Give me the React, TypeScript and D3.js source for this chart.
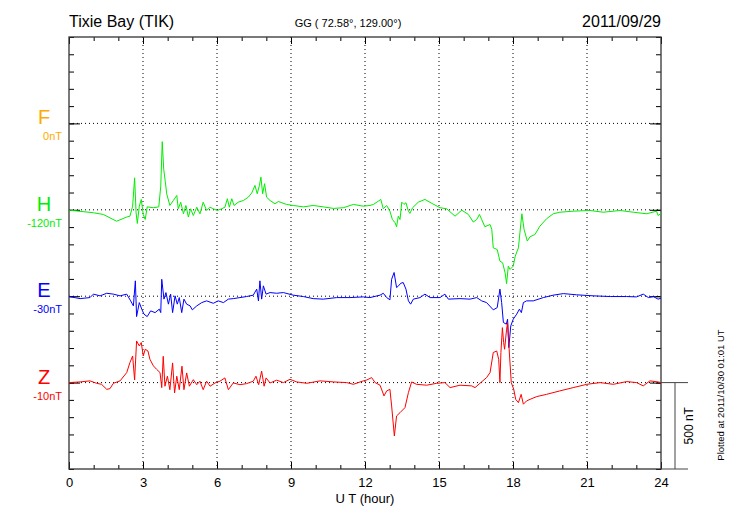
import { useEffect, useRef } from "react";
import * as d3 from "d3";

// hour, deviation from baseline (nT)
const hTrace: [number, number][] = [
  [0.0, -2], [0.99, -17], [1.39, -27], [1.93, -66], [2.34, -42], [2.47, -37], [2.58, 21],
  [2.66, 185], [2.72, -17], [2.77, -79], [2.85, 21], [2.93, 60], [3.01, -27], [3.09, -56],
  [3.17, 17], [3.42, 12], [3.64, 17], [3.72, 137], [3.78, 394], [3.84, 234], [3.91, 156],
  [3.96, 93], [4.09, 25], [4.23, 54], [4.37, 83], [4.43, 6], [4.53, 44], [4.64, -23],
  [4.74, 25], [4.84, -42], [4.93, 6], [5.04, -33], [5.18, 15], [5.31, -23], [5.44, 44],
  [5.58, -4], [5.72, 15], [5.85, 6], [6.01, -4], [6.19, 6], [6.32, 15], [6.42, 64],
  [6.5, 15], [6.6, 64], [6.69, 25], [6.86, 44], [7.07, 54], [7.27, 73], [7.41, 98],
  [7.54, 141], [7.63, 93], [7.72, 141], [7.78, 189], [7.85, 93], [7.93, 151], [8.01, 73],
  [8.15, 54], [8.35, 35], [8.49, 48], [8.82, 31], [9.09, 25], [9.5, 17], [9.9, 25],
  [10.31, 17], [10.72, 8], [11.12, 12], [11.53, 31], [11.93, 21], [12.2, 25], [12.34, 31],
  [12.54, 50], [12.64, 60], [12.74, 6], [12.88, 25], [13.01, -8], [13.11, -56], [13.22, -75],
  [13.28, -98], [13.35, -37], [13.42, -56], [13.49, 44], [13.58, 31], [13.66, 41], [13.76, -8],
  [13.82, -21], [13.93, 12], [14.16, 44], [14.43, 60], [14.71, 37], [15.04, 12], [15.31, 6],
  [15.65, -37], [15.92, -2], [16.19, -27], [16.39, -71], [16.53, -56], [16.64, -27],
  [16.73, -56], [16.86, -98], [17.07, -85], [17.14, -114], [17.2, -220], [17.36, -230],
  [17.47, -297], [17.58, -307], [17.68, -365], [17.74, -427], [17.81, -326], [17.88, -345],
  [18.01, -326], [18.09, -268], [18.22, -220], [18.28, -133], [18.36, -23], [18.45, -114],
  [18.58, -181], [18.69, -156], [18.89, -143], [19.09, -95], [19.36, -52], [19.63, -23],
  [19.9, -14], [20.44, -8], [21.12, -4], [21.66, -14], [22.34, -4], [22.88, -14],
  [23.42, -23], [23.82, -8], [23.88, -33], [24.0, -21],
];

const eTrace: [number, number][] = [
  [0.0, -2], [0.45, -14], [0.85, -8], [0.99, 12], [1.26, 2], [1.53, 17], [1.8, 12], [2.07, 2],
  [2.34, 12], [2.5, -27], [2.61, -56], [2.69, 89], [2.74, -118], [2.85, -37], [2.95, -75],
  [3.04, -104], [3.17, -118], [3.31, -85], [3.49, -95], [3.66, -75], [3.72, -95], [3.76, 98],
  [3.85, -17], [3.93, 21], [4.03, -46], [4.12, 12], [4.2, -95], [4.3, 2], [4.39, -46],
  [4.47, -8], [4.57, -95], [4.66, -17], [4.77, -46], [4.91, -56], [5.0, -79], [5.18, -56],
  [5.38, -37], [5.58, -27], [5.85, -41], [6.05, -27], [6.26, -37], [6.46, -17], [6.66, -14],
  [6.93, -8], [7.2, -2], [7.47, 6], [7.61, 41], [7.68, -27], [7.74, 89], [7.81, -17],
  [7.88, 60], [7.99, 12], [8.15, 21], [8.42, 17], [8.69, 21], [9.09, 6],
  [9.5, -2], [9.9, -14], [10.31, -17], [10.85, -8], [11.39, -8], [11.93, -4], [12.2, -8],
  [12.61, 6], [12.74, 17], [12.88, -8], [13.01, -21], [13.08, 98], [13.18, 137], [13.28, 50],
  [13.36, 60], [13.45, 75], [13.55, 79], [13.66, 41], [13.76, -27], [13.85, -46], [13.96, -17],
  [14.23, -8], [14.43, 12], [14.64, -8], [15.04, -8], [15.24, 12], [15.38, -17], [15.85, -14],
  [16.26, -17], [16.53, -8], [16.73, -27], [16.93, -37], [17.2, -79], [17.36, -66],
  [17.47, 41], [17.54, -37], [17.61, -152], [17.73, -162], [17.78, -133], [17.83, -297],
  [17.91, -172], [18.01, -133], [18.15, -104], [18.26, -75], [18.34, -95], [18.42, -37],
  [18.55, -27], [18.82, -27], [19.23, -8], [19.63, 6], [20.04, 15], [20.58, 8], [21.26, 2],
  [21.94, -2], [22.61, -2], [23.01, -4], [23.28, 12], [23.49, -8], [23.69, -2], [23.88, -17],
  [24.0, -12],
];

const zTrace: [number, number][] = [
  [0.0, 0], [0.45, 4], [0.85, 10], [1.12, -4], [1.32, -10], [1.53, -39], [1.66, -35],
  [1.8, -4], [2.07, 10], [2.34, 58], [2.47, 116], [2.58, 154], [2.66, 15], [2.74, 241],
  [2.85, 212], [2.93, 232], [3.01, 154], [3.09, 193], [3.2, 183], [3.28, 135], [3.42, 97],
  [3.55, 77], [3.69, 58], [3.76, -29], [3.82, 152], [3.89, -21], [3.99, 37], [4.09, -41],
  [4.2, 114], [4.28, -60], [4.37, 37], [4.47, -41], [4.58, 95], [4.66, -41], [4.77, 56],
  [4.88, -21], [5.04, 17], [5.18, -12], [5.31, 8], [5.44, -41], [5.58, 8], [5.72, -21],
  [5.92, -2], [6.12, 8], [6.32, 27], [6.46, -41], [6.66, -2], [6.93, -12], [7.2, -6],
  [7.47, 8], [7.58, 37], [7.69, -12], [7.81, 66], [7.91, -21], [7.99, 27], [8.15, -2],
  [8.42, 14], [8.69, 0], [8.96, 19],
  [9.23, 4], [9.64, -4], [10.18, 10], [10.72, 4], [11.26, 0], [11.53, -10], [11.93, 10],
  [12.07, 15], [12.27, 29], [12.41, 0], [12.61, -15], [12.77, -77], [12.88, -48], [13.01, -39],
  [13.08, -135], [13.19, -309], [13.28, -193], [13.42, -174], [13.62, -145], [13.76, -58],
  [13.89, 4], [14.09, -10], [14.5, -15], [14.91, -4], [15.24, 0], [15.45, -29], [15.85, -15],
  [16.33, -19], [16.46, -29], [16.66, -4], [16.93, 29], [17.07, 58], [17.2, 174], [17.34, 183],
  [17.42, 135], [17.47, 0], [17.51, 174], [17.57, 318], [17.62, 232], [17.66, 193],
  [17.74, 309], [17.78, 347], [17.86, 154], [17.93, 0], [18.03, -39], [18.11, -97],
  [18.22, -116], [18.33, -68], [18.42, -125], [18.55, -106], [18.69, -97], [18.96, -81],
  [19.36, -68], [19.9, -48], [20.44, -29], [20.99, -10], [21.53, 0], [22.07, -10], [22.61, 6],
  [23.01, 0], [23.28, -19], [23.55, 10], [23.88, 4], [24.0, 0],
];

const components = [
  { name: "F", offset: "0nT", color: "#ffaa00", base: 2000, trace: [] as [number, number][] },
  { name: "H", offset: "-120nT", color: "#00ee00", base: 1500, trace: hTrace },
  { name: "E", offset: "-30nT", color: "#0000ff", base: 1000, trace: eTrace },
  { name: "Z", offset: "-10nT", color: "#ff0000", base: 500, trace: zTrace },
];

const hourTicks = d3.range(0, 25);
const labelTicks = [0, 3, 6, 9, 12, 15, 18, 21, 24];
const nTTicks = d3.range(0, 2501, 100);
const nTMajor = [500, 1000, 1500, 2000];

const FONT = "'Liberation Sans', Arial, Helvetica, sans-serif";

export default function App() {
  const svgRef = useRef<SVGSVGElement | null>(null);

  useEffect(() => {
    if (!svgRef.current) return;
    const svg = d3.select(svgRef.current);
    svg.selectAll("*").remove();

    const x = d3.scaleLinear().domain([0, 24]).range([69, 661]);
    const y = d3.scaleLinear().domain([0, 2500]).range([469, 37]);
    const [x0, x1] = x.range();
    const [y0, y1] = y.range();

    // grid
    const grid = svg.append("g").attr("stroke", "#000").attr("stroke-dasharray", "1,3");
    labelTicks.slice(1, -1).forEach((h) => {
      grid.append("line").attr("x1", x(h)).attr("x2", x(h)).attr("y1", y1).attr("y2", y0);
    });
    nTMajor.forEach((v) => {
      grid.append("line").attr("x1", x0).attr("x2", x1).attr("y1", y(v)).attr("y2", y(v));
    });

    // axes (ticks inward)
    const style = (g: d3.Selection<SVGGElement, unknown, null, undefined>) => {
      g.select(".domain").remove();
      g.selectAll("line").attr("stroke", "#000");
      g.selectAll("text").attr("font-family", FONT).attr("font-size", 13).attr("fill", "#000");
    };
    svg.append("g").attr("transform", `translate(0,${y0})`)
      .call(d3.axisBottom(x).tickValues(hourTicks).tickSize(-4).tickFormat(() => "")).call(style);
    svg.append("g").attr("transform", `translate(0,${y0})`)
      .call(d3.axisBottom(x).tickValues(labelTicks).tickSize(-7).tickPadding(9).tickFormat(d3.format("d"))).call(style);
    svg.append("g").attr("transform", `translate(0,${y1})`)
      .call(d3.axisTop(x).tickValues(hourTicks).tickSize(-4).tickFormat(() => "")).call(style);
    svg.append("g").attr("transform", `translate(0,${y1})`)
      .call(d3.axisTop(x).tickValues(labelTicks).tickSize(-7).tickFormat(() => "")).call(style);
    svg.append("g").attr("transform", `translate(${x0},0)`)
      .call(d3.axisLeft(y).tickValues(nTTicks).tickSize(-5).tickFormat(() => "")).call(style);
    svg.append("g").attr("transform", `translate(${x0},0)`)
      .call(d3.axisLeft(y).tickValues(nTMajor).tickSize(-11).tickFormat(() => "")).call(style);
    svg.append("g").attr("transform", `translate(${x1},0)`)
      .call(d3.axisRight(y).tickValues(nTTicks).tickSize(-5).tickFormat(() => "")).call(style);
    svg.append("g").attr("transform", `translate(${x1},0)`)
      .call(d3.axisRight(y).tickValues(nTMajor).tickSize(-11).tickFormat(() => "")).call(style);

    svg.append("rect")
      .attr("x", x0).attr("y", y1).attr("width", x1 - x0).attr("height", y0 - y1)
      .attr("fill", "none").attr("stroke", "#333").attr("stroke-width", 1.3);

    // traces
    const line = d3.line<[number, number]>();
    components.forEach((c) => {
      if (c.trace.length) {
        line.x((d) => x(d[0])).y((d) => y(c.base + d[1]));
        svg.append("path").datum(c.trace)
          .attr("fill", "none").attr("stroke", c.color).attr("stroke-width", 1)
          .attr("d", line);
      }
      svg.append("text").attr("x", 44).attr("y", y(c.base) + 1)
        .attr("text-anchor", "middle").attr("font-family", FONT).attr("font-size", 20)
        .attr("fill", c.color).text(c.name);
      svg.append("text").attr("x", 62).attr("y", y(c.base) + 17)
        .attr("text-anchor", "end").attr("font-family", FONT).attr("font-size", 11)
        .attr("fill", c.color).text(c.offset);
    });

    // 500 nT scale bar
    const bar = svg.append("g").attr("stroke", "#444").attr("stroke-width", 1);
    bar.append("line").attr("x1", x1).attr("x2", x1 + 27).attr("y1", y(500)).attr("y2", y(500));
    bar.append("line").attr("x1", x1).attr("x2", x1 + 27).attr("y1", y(0)).attr("y2", y(0));
    bar.append("line").attr("x1", x1 + 14).attr("x2", x1 + 14).attr("y1", y(500)).attr("y2", y(0));
    svg.append("text")
      .attr("transform", `translate(${x1 + 32},${y(250)}) rotate(-90)`)
      .attr("text-anchor", "middle").attr("font-family", FONT).attr("font-size", 12)
      .text("500 nT");
    svg.append("text")
      .attr("transform", `translate(724,395) rotate(-90)`)
      .attr("text-anchor", "middle").attr("font-family", FONT).attr("font-size", 9.5)
      .text("Plotted at 2011/10/30 01:01 UT");

    // titles
    svg.append("text").attr("x", x0).attr("y", 27)
      .attr("font-family", FONT).attr("font-size", 16).text("Tixie Bay (TIK)");
    svg.append("text").attr("x", 348).attr("y", 27).attr("text-anchor", "middle")
      .attr("font-family", FONT).attr("font-size", 11).text("GG ( 72.58°, 129.00°)");
    svg.append("text").attr("x", x1).attr("y", 27).attr("text-anchor", "end")
      .attr("font-family", FONT).attr("font-size", 16).text("2011/09/29");
    svg.append("text").attr("x", x(12)).attr("y", 503).attr("text-anchor", "middle")
      .attr("font-family", FONT).attr("font-size", 13).text("U T (hour)");
  }, []);

  return (
    <svg
      ref={svgRef}
      width={730}
      height={520}
      style={{ position: "absolute", left: 0, top: 0, background: "#fff" }}
    />
  );
}
